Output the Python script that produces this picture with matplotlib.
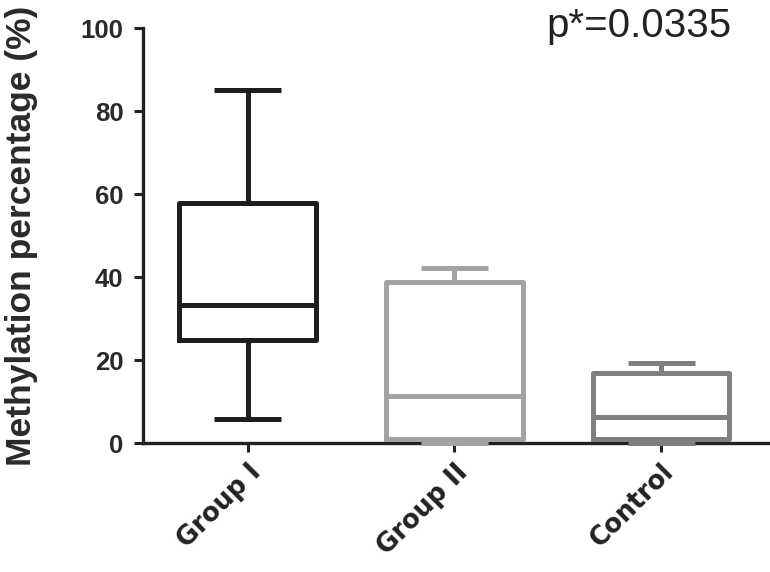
import matplotlib
matplotlib.use("Agg")
import matplotlib.pyplot as plt

plt.rcParams['font.family'] = ['Liberation Sans', 'DejaVu Sans']

# valores
grupos = ["Group I", "Group II", "Control"]
minimos = [5.8, 0.0, 0.0]
q1 = [24.8, 1.0, 1.0]
medianas = [33.3, 11.3, 6.3]
q3 = [57.8, 38.8, 16.9]
maximos = [85.1, 42.2, 19.3]
colores = ["#1e1e1e", "#a3a3a3", "#7f7f7f"]
p_texto = "p*=0.0335"

fig = plt.figure(figsize=(7.7, 5.72), dpi=100)
ax = fig.add_axes([0.1857, 0.2255, 0.8113, 0.7255])

for i, g in enumerate(grupos):
    stats = [dict(label=g, med=medianas[i], q1=q1[i], q3=q3[i],
                  whislo=minimos[i], whishi=maximos[i], fliers=[])]
    lw = 3.6
    props = dict(color=colores[i], linewidth=lw, solid_capstyle='butt')
    bp = ax.bxp(stats, positions=[i], widths=0.66, capwidths=[0.325],
                showfliers=False, patch_artist=False,
                boxprops=dict(color=colores[i], linewidth=lw),
                medianprops=props, whiskerprops=props, capprops=props,
                manage_ticks=False)
    for key in ("boxes", "medians", "whiskers", "caps"):
        for art in bp[key]:
            art.set_zorder(5)
            art.set_clip_on(False)

ax.set_xlim(-0.506, 2.515)
ax.set_ylim(0, 100)
ax.set_xticks(range(len(grupos)))
ax.set_xticklabels(grupos, rotation=45, ha='right', rotation_mode='anchor',
                   fontsize=18.5, fontweight='bold', color='#222222',
                   family=['DejaVu Sans'])
ax.set_yticks([0, 20, 40, 60, 80, 100])
ax.set_yticklabels(["0", "20", "40", "60", "80", "100"], fontsize=18.5,
                   fontweight='bold', color='#2a2a2a')
ax.tick_params(axis='both', width=2.2, length=6.5, color='#222222')
ax.tick_params(axis='y', pad=7.5)
ax.tick_params(axis='x', pad=5)

for s in ("top", "right"):
    ax.spines[s].set_visible(False)
for s in ("left", "bottom"):
    ax.spines[s].set_linewidth(2.4)
    ax.spines[s].set_color('#222222')
    ax.spines[s].set_zorder(3)

ax.set_ylabel("Methylation percentage (%)", fontsize=25.5, fontweight='bold',
              color='#2a2a2a', labelpad=31)

ax.text(1.446, 97.8, p_texto, fontsize=29, color='#222222',
        ha='left', va='baseline', clip_on=False)

fig.savefig("out.png", dpi=100)
